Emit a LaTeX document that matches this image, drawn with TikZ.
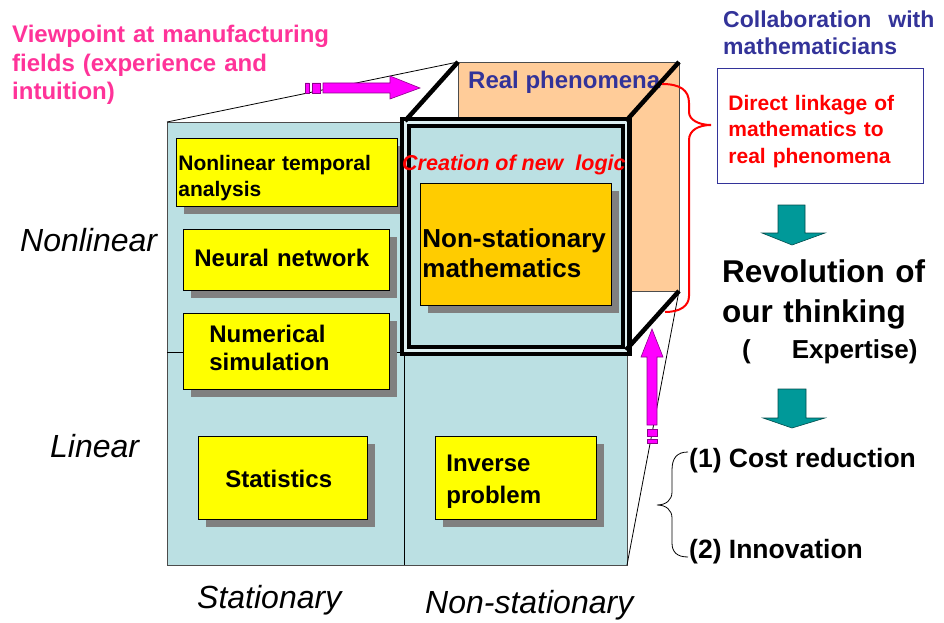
\documentclass[tikz,border=0pt]{standalone}
\usepackage{fontspec}
\setmainfont{Liberation Sans}
\usepackage{tikz}
\usetikzlibrary{shadows}
\definecolor{Panel}{HTML}{BBE0E3}
\definecolor{Peach}{HTML}{FFCC99}
\definecolor{Amber}{HTML}{FFCC00}
\definecolor{Lemon}{HTML}{FFFF00}
\definecolor{Shade}{HTML}{808080}
\definecolor{Teal}{HTML}{009999}
\definecolor{Fuchsia}{HTML}{FF00FF}
\definecolor{Indigo}{HTML}{333399}
\definecolor{Rose}{HTML}{FF3399}
\newcommand\fsz[2]{\fontsize{#1}{#2}\selectfont}

\begin{document}
\begin{tikzpicture}[x=1pt,y=-1pt]
  \tikzstyle{txt}=[inner sep=0,anchor=base west,align=left]
  \tikzstyle{ybox}=[draw,line width=0.8,fill=Lemon,anchor=north west,inner ysep=0,align=left,
    drop shadow={shadow xshift=8pt,shadow yshift=-8pt,fill=Shade,opacity=1}]
  \tikzstyle{axis}=[txt,font=\itshape\fsz{32}{38}]
  \tikzstyle{tealarrow}=[fill=Teal,draw=Teal!50!black,line width=0.6]
  \tikzstyle{pinkarrow}=[fill=Fuchsia,draw=Fuchsia!55!black,line width=0.6]
  \useasboundingbox (0,0) rectangle (944,623);
  % cube
  \draw[fill=Peach,draw=black!70,line width=0.6] (458,62) rectangle (679,291);
  \draw[fill=Panel,draw=black!70,line width=0.8] (167,122) rectangle (627,565);
  \draw[line width=0.8] (404,122) -- (404,565) (167,352) -- (404,352);
  \draw[line width=0.8] (167,122) -- (458,62) (679,291) -- (627,565);
  \node[ybox,inner xsep=2,text width=217,text height=32,text depth=36,font=\bfseries\fsz{21}{26}] (nta) at (176,138) {Nonlinear temporal\\analysis};
  \node[ybox,inner xsep=11,text width=184,text height=37,text depth=24,font=\bfseries\fsz{24}{28}] (neural) at (183,229) {Neural network};
  \node[ybox,inner xsep=26,text width=154,text height=29,text depth=47,font=\bfseries\fsz{24}{28}] (numsim) at (183,313) {Numerical\\simulation};
  \node[ybox,inner xsep=27,text width=115,text height=51,text depth=32,font=\bfseries\fsz{24}{28}] (stat) at (198,436) {Statistics};
  \node[ybox,inner xsep=11,text width=139,text height=35,text depth=48,font=\bfseries\fsz{24}{32}] (inverse) at (435,436) {Inverse\\problem};
  \node[ybox,fill=Amber,inner xsep=2,text width=187,text height=64,text depth=58,font=\bfseries\fsz{26}{30}] (nsm) at (420,183) {Non-stationary\\mathematics};
  \node[txt,font=\bfseries\fsz{24}{28},text=Indigo] (realph) at (468,89) {Real phenomena};
  \draw[line width=11] (405.5,122.5) rectangle (626,350.5);
  \draw[line width=2.5,draw=Panel!50!white] (405.5,122.5) rectangle (626,350.5);
  \draw[line width=4.5] (405,121) -- (458,62) (626,121) -- (679,62) (626,350) -- (679,291);
  \node[txt,font=\bfseries\itshape\fsz{21.5}{26},text=red] (logic) at (402,170) {Creation of new~~logic};
  % magenta arrows
  \draw[pinkarrow] (323,83) -- (390,83) -- (390,76) -- (420,88) -- (390,99) -- (390,93) -- (323,93) -- cycle;
  \draw[pinkarrow] (305,83) rectangle (309,93) (312,83) rectangle (320,93);
  \draw[pinkarrow] (647,425) -- (647,357) -- (641,357) -- (652,329) -- (663,357) -- (657,357) -- (657,425) -- cycle;
  \draw[pinkarrow] (647,429) rectangle (657,436) (647,439) rectangle (657,443);
  % right column
  \node[txt,font=\bfseries\fsz{24}{28.5},text=Rose,text width=330] (view) at (12,43) {Viewpoint at manufacturing\\fields (experience and\\intuition)};
  \node[txt,font=\bfseries\fsz{23}{27},text=Indigo,text width=230] (collab) at (723,28) {Collaboration\hspace{17pt}with\\mathematicians};
  \node[draw=Indigo,line width=0.8,fill=white,anchor=north west,inner xsep=11,inner ysep=0,text width=184,text height=42,text depth=73,align=left,font=\bfseries\fsz{21}{26.5},text=red] (link) at (717,68) {Direct linkage of\\mathematics to\\real phenomena};
  \draw[red,line width=2] (662,84) .. controls (680,84) and (689,90) .. (689,103) -- (689,112) .. controls (689,120) and (699,125) .. (711,125) .. controls (699,125) and (689,130) .. (689,140) -- (689,296) .. controls (689,306) and (680,312) .. (665,312);
  \draw[tealarrow] (778,205) -- (805,205) -- (805,233) -- (825,233) -- (792,245) -- (762,233) -- (778,233) -- cycle;
  \node[txt,font=\bfseries\fsz{31.5}{40},text width=220] (revol) at (722,282) {Revolution of\\our thinking};
  \node[txt,font=\bfseries\fsz{26}{30}] (expert) at (742,358) {(\hspace{41pt}Expertise)};
  \draw[tealarrow] (778,389) -- (806,389) -- (806,418) -- (825,418) -- (792,428) -- (763,418) -- (778,418) -- cycle;
  \node[txt,font=\bfseries\fsz{26.5}{30}] (cost) at (689,467) {(1) Cost reduction};
  \node[txt,font=\bfseries\fsz{26.5}{30}] (innov) at (689,558) {(2) Innovation};
  \draw[line width=0.8] (688,452) .. controls (677,452) and (672,458) .. (672,470) -- (672,492) .. controls (672,500) and (666,505) .. (657,505) .. controls (666,505) and (672,510) .. (672,518) -- (672,543) .. controls (672,552) and (677,557) .. (688,557);
  % axis labels
  \node[axis] (nonlin) at (20,251) {Nonlinear};
  \node[axis] (lin) at (50,457) {Linear};
  \node[axis] (stationary) at (197,608) {Stationary};
  \node[axis] (nonstat) at (425,613) {Non-stationary};
\end{tikzpicture}
\end{document}
